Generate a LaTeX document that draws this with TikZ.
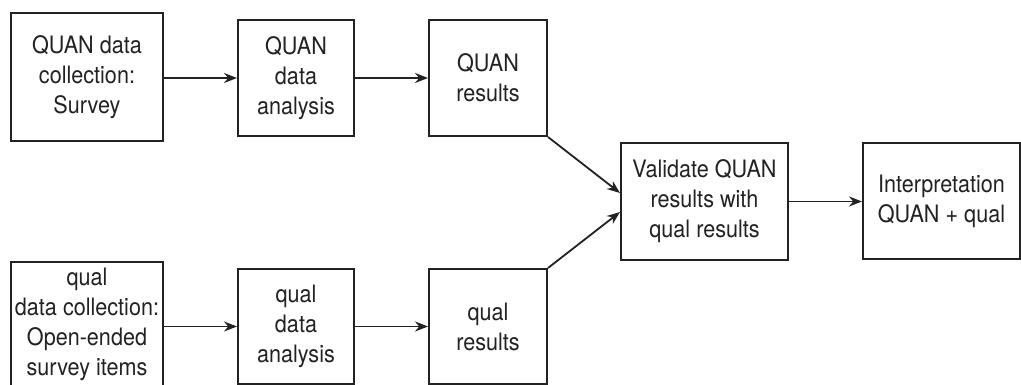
\documentclass[tikz,border=0pt]{standalone}
\usepackage{fontspec}
\setmainfont{TeX Gyre Heros}[FakeStretch=0.9]
\usetikzlibrary{arrows.meta}
\definecolor{ink}{HTML}{222222}
\begin{document}
\begin{tikzpicture}[x=1pt,y=-1pt,
  box/.style={draw=ink,line width=2pt,inner sep=0pt,align=center,text=ink,
    font=\fontsize{24}{30}\selectfont},
  arr/.style={draw=ink,line width=1.8pt,-{Stealth[length=13pt,width=10pt]}}]
\useasboundingbox (0,0) rectangle (1021,385);
\clip (0,0) rectangle (1021,385);
\fill[white] (0,0) rectangle (1021,385);
\node[box,minimum width=152pt,minimum height=128pt] (b1) at (87,77) {QUAN data\\collection:\\Survey};
\node[box,minimum width=116pt,minimum height=116pt] (b2) at (296,78) {QUAN\\data\\analysis};
\node[box,minimum width=118pt,minimum height=116pt] (b3) at (488,78) {QUAN\\results};
\node[box,minimum width=167pt,minimum height=117pt] (val) at (704.5,201.5) {Validate QUAN\\results with\\qual results};
\node[box,minimum width=157pt,minimum height=116pt] (int) at (941.5,201) {Interpretation\\QUAN + qual};
\node[box,minimum width=152pt,minimum height=124pt] (c1) at (87,324) {qual\\data collection:\\Open-ended\\survey items};
\node[box,minimum width=116pt,minimum height=115pt] (c2) at (296,326.5) {qual\\data\\analysis};
\node[box,minimum width=118pt,minimum height=115pt] (c3) at (488,326.5) {qual\\results};
\draw[arr] (b2.west -| b1.east) -- (b2.west);
\draw[arr] (b2.east) -- (b2.east -| b3.west);
\draw[arr] (c2.west -| c1.east) -- (c2.west);
\draw[arr] (c2.east) -- (c2.east -| c3.west);
\draw[arr] (b3.south east) -- ([yshift=8.5pt]val.west);
\draw[arr] (c3.north east) -- ([yshift=-10.5pt]val.west);
\draw[arr] (val.east) -- (val.east -| int.west);
\end{tikzpicture}
\end{document}
